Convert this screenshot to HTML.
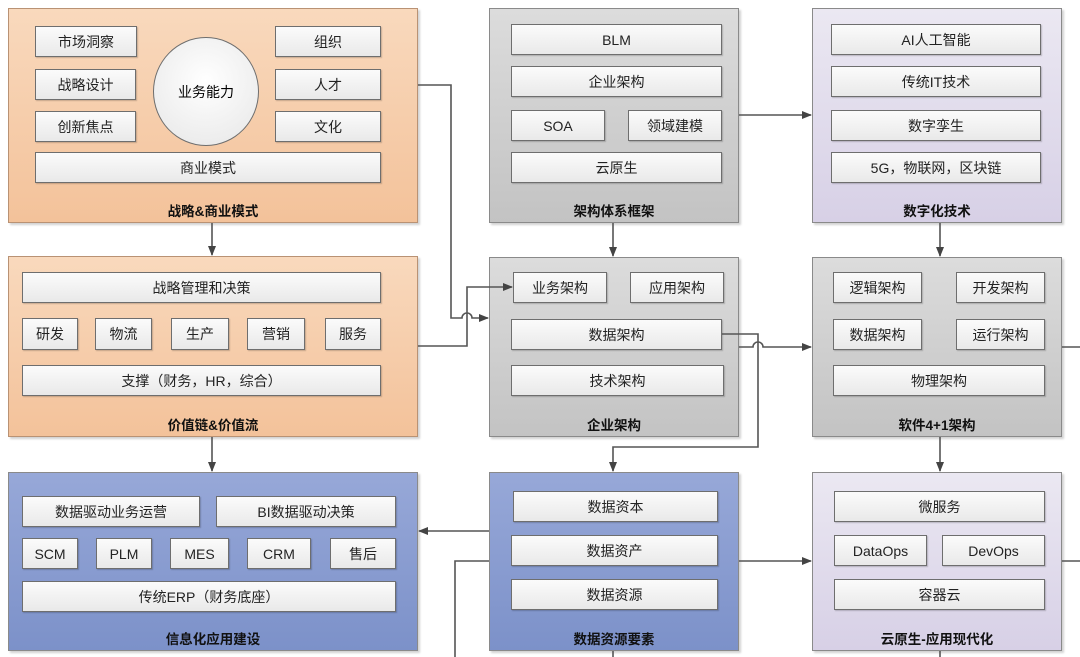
<!DOCTYPE html>
<html><head><meta charset="utf-8"><style>
body{margin:0;width:1080px;height:657px;background:#fff;position:relative;overflow:hidden;font-family:"Liberation Sans","Noto Sans CJK SC",sans-serif;}
.p{position:absolute;border:1px solid #8a8a8a;box-sizing:border-box;box-shadow:2px 2px 2px rgba(0,0,0,.18);}
.or{background:linear-gradient(#f9d9bd,#f3c29a);border-color:#b99274;}
.gr{background:linear-gradient(#dcdcdc,#c3c3c3);}
.lv{background:linear-gradient(#ebe8f2,#d7d0e6);}
.bl{background:linear-gradient(#97a8d8,#7c91c9);}
.t{position:absolute;left:0;right:0;text-align:center;font-weight:bold;font-size:13.5px;color:#111;}
.b{position:absolute;border:1px solid #6e6e6e;box-sizing:border-box;background:linear-gradient(#fbfbfb,#e9e9e9);font-size:14px;color:#222;display:flex;align-items:center;justify-content:center;box-shadow:1px 1px 1px rgba(0,0,0,.2);}
.c{position:absolute;border:1px solid #6e6e6e;border-radius:50%;background:radial-gradient(circle at 50% 40%,#fff,#e6e6e6);font-size:14px;display:flex;align-items:center;justify-content:center;box-sizing:border-box;}
svg{position:absolute;left:0;top:0;}
</style></head><body>
<div class="p or" style="left:8px;top:8px;width:410px;height:215px"><div class="t" style="top:191px">战略&amp;商业模式</div></div>
<div class="p gr" style="left:489px;top:8px;width:250px;height:215px"><div class="t" style="top:191px">架构体系框架</div></div>
<div class="p lv" style="left:812px;top:8px;width:250px;height:215px"><div class="t" style="top:191px">数字化技术</div></div>
<div class="p or" style="left:8px;top:256px;width:410px;height:181px"><div class="t" style="top:157px">价值链&amp;价值流</div></div>
<div class="p gr" style="left:489px;top:257px;width:250px;height:180px"><div class="t" style="top:156px">企业架构</div></div>
<div class="p gr" style="left:812px;top:257px;width:250px;height:180px"><div class="t" style="top:156px">软件4+1架构</div></div>
<div class="p bl" style="left:8px;top:472px;width:410px;height:179px"><div class="t" style="top:155px">信息化应用建设</div></div>
<div class="p bl" style="left:489px;top:472px;width:250px;height:179px"><div class="t" style="top:155px">数据资源要素</div></div>
<div class="p lv" style="left:812px;top:472px;width:250px;height:179px"><div class="t" style="top:155px">云原生-应用现代化</div></div>

<div class="b" style="left:35px;top:26px;width:102px;height:31px">市场洞察</div>
<div class="b" style="left:35px;top:69px;width:101px;height:31px">战略设计</div>
<div class="b" style="left:35px;top:111px;width:101px;height:31px">创新焦点</div>
<div class="c" style="left:153px;top:37px;width:106px;height:109px">业务能力</div>
<div class="b" style="left:275px;top:26px;width:106px;height:31px">组织</div>
<div class="b" style="left:275px;top:69px;width:106px;height:31px">人才</div>
<div class="b" style="left:275px;top:111px;width:106px;height:31px">文化</div>
<div class="b" style="left:35px;top:152px;width:346px;height:31px">商业模式</div>

<div class="b" style="left:511px;top:24px;width:211px;height:31px">BLM</div>
<div class="b" style="left:511px;top:66px;width:211px;height:31px">企业架构</div>
<div class="b" style="left:511px;top:110px;width:94px;height:31px">SOA</div>
<div class="b" style="left:628px;top:110px;width:94px;height:31px">领域建模</div>
<div class="b" style="left:511px;top:152px;width:211px;height:31px">云原生</div>

<div class="b" style="left:831px;top:24px;width:210px;height:31px">AI人工智能</div>
<div class="b" style="left:831px;top:66px;width:210px;height:31px">传统IT技术</div>
<div class="b" style="left:831px;top:110px;width:210px;height:31px">数字孪生</div>
<div class="b" style="left:831px;top:152px;width:210px;height:31px">5G，物联网，区块链</div>

<div class="b" style="left:22px;top:272px;width:359px;height:31px">战略管理和决策</div>
<div class="b" style="left:22px;top:318px;width:56px;height:32px">研发</div>
<div class="b" style="left:95px;top:318px;width:57px;height:32px">物流</div>
<div class="b" style="left:171px;top:318px;width:58px;height:32px">生产</div>
<div class="b" style="left:247px;top:318px;width:58px;height:32px">营销</div>
<div class="b" style="left:325px;top:318px;width:56px;height:32px">服务</div>
<div class="b" style="left:22px;top:365px;width:359px;height:31px">支撑（财务，HR，综合）</div>

<div class="b" style="left:513px;top:272px;width:94px;height:31px">业务架构</div>
<div class="b" style="left:630px;top:272px;width:94px;height:31px">应用架构</div>
<div class="b" style="left:511px;top:319px;width:211px;height:31px">数据架构</div>
<div class="b" style="left:511px;top:365px;width:213px;height:31px">技术架构</div>

<div class="b" style="left:833px;top:272px;width:89px;height:31px">逻辑架构</div>
<div class="b" style="left:956px;top:272px;width:89px;height:31px">开发架构</div>
<div class="b" style="left:833px;top:319px;width:89px;height:31px">数据架构</div>
<div class="b" style="left:956px;top:319px;width:89px;height:31px">运行架构</div>
<div class="b" style="left:833px;top:365px;width:212px;height:31px">物理架构</div>

<div class="b" style="left:22px;top:496px;width:178px;height:31px">数据驱动业务运营</div>
<div class="b" style="left:216px;top:496px;width:180px;height:31px">BI数据驱动决策</div>
<div class="b" style="left:22px;top:538px;width:56px;height:31px">SCM</div>
<div class="b" style="left:96px;top:538px;width:56px;height:31px">PLM</div>
<div class="b" style="left:170px;top:538px;width:59px;height:31px">MES</div>
<div class="b" style="left:247px;top:538px;width:64px;height:31px">CRM</div>
<div class="b" style="left:330px;top:538px;width:66px;height:31px">售后</div>
<div class="b" style="left:22px;top:581px;width:374px;height:31px">传统ERP（财务底座）</div>

<div class="b" style="left:513px;top:491px;width:205px;height:31px">数据资本</div>
<div class="b" style="left:511px;top:535px;width:207px;height:31px">数据资产</div>
<div class="b" style="left:511px;top:579px;width:207px;height:31px">数据资源</div>

<div class="b" style="left:834px;top:491px;width:211px;height:31px">微服务</div>
<div class="b" style="left:834px;top:535px;width:93px;height:31px">DataOps</div>
<div class="b" style="left:942px;top:535px;width:103px;height:31px">DevOps</div>
<div class="b" style="left:834px;top:579px;width:211px;height:31px">容器云</div>

<svg width="1080" height="657" viewBox="0 0 1080 657">
<defs><marker id="a" markerWidth="10" markerHeight="10" refX="9" refY="5" orient="auto" markerUnits="userSpaceOnUse"><path d="M0,1 L10,5 L0,9 z" fill="#444"/></marker></defs>
<g stroke="#555" stroke-width="1.6" fill="none">
<path d="M212,223 V255" marker-end="url(#a)"/>
<path d="M212,437 V471" marker-end="url(#a)"/>
<path d="M613,223 V256" marker-end="url(#a)"/>
<path d="M940,223 V256" marker-end="url(#a)"/>
<path d="M940,437 V471" marker-end="url(#a)"/>
<path d="M739,115 H811" marker-end="url(#a)"/>
<path d="M418,85 H451 V318 H462 a5,5 0 0 1 10,0 H488" marker-end="url(#a)"/>
<path d="M418,346 H467 V287 H512" marker-end="url(#a)"/>
<path d="M722,334 H758 V447 H613 V471" marker-end="url(#a)"/>
<path d="M739,347 H753 a5,5 0 0 1 10,0 H811" marker-end="url(#a)"/>
<path d="M489,531 H419" marker-end="url(#a)"/>
<path d="M489,561 H455 V657"/>
<path d="M739,561 H811" marker-end="url(#a)"/>
<path d="M613,651 V657"/>
<path d="M1062,347 H1080"/>
<path d="M1062,561 H1080"/>
<path d="M940,651 V657"/>
</g></svg>
</body></html>
